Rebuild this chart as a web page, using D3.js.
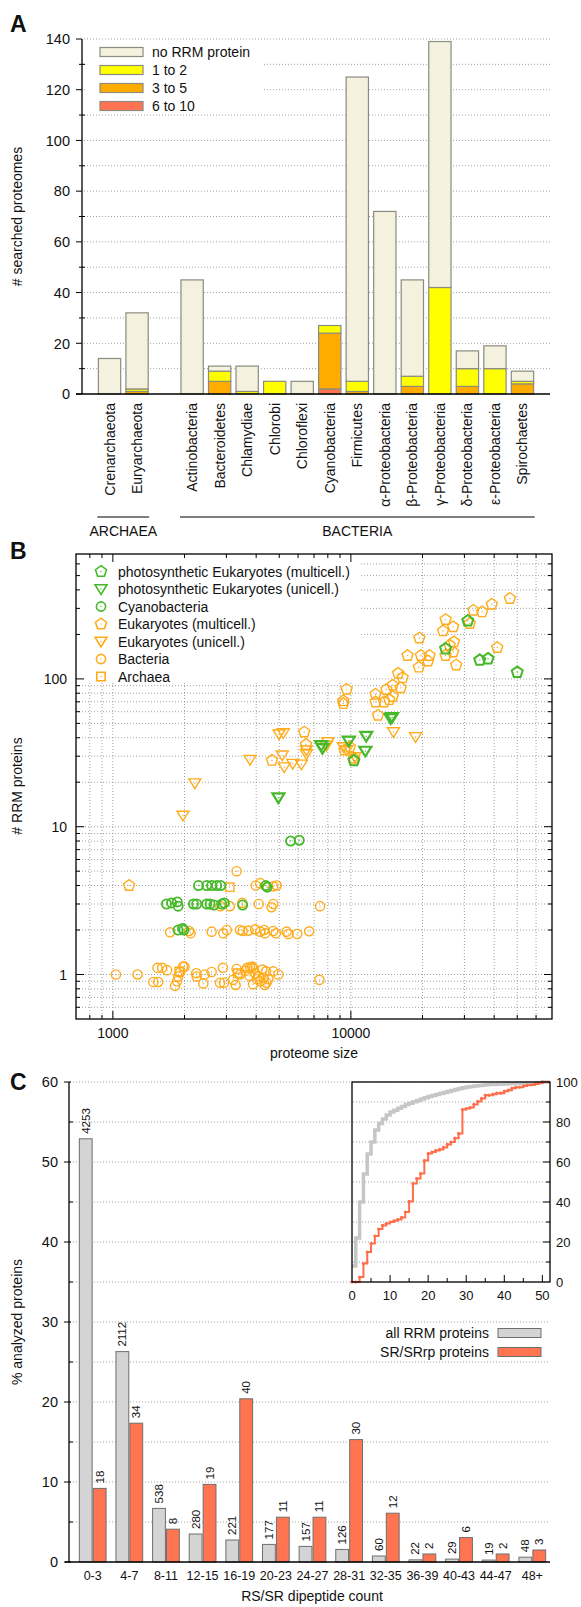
<!DOCTYPE html>
<html>
<head>
<meta charset="utf-8">
<script src="https://cdn.jsdelivr.net/npm/d3@7"></script>
<style>
  body { margin: 0; background: #fff; }
  svg text { font-family: "Liberation Sans", Arial, Helvetica, sans-serif; fill: #111; }
</style>
</head>
<body>
<svg id="fig" width="581" height="1607"></svg>
<script>
// ---------- panel A data ----------
var phyla = ["Crenarchaeota", "Euryarchaeota", "gap", "Actinobacteria", "Bacteroidetes", "Chlamydiae",
  "Chlorobi", "Chloroflexi", "Cyanobacteria", "Firmicutes", "α-Proteobacteria", "β-Proteobacteria",
  "γ-Proteobacteria", "δ-Proteobacteria", "ε-Proteobacteria", "Spirochaetes"];
var phylaBars = phyla.filter(d => d !== "gap");
var sixTo10   = [0, 0, 0, 0, 0, 0, 0, 2, 0, 0, 0, 0, 0, 0, 0];
var threeTo5  = [0, 1, 0, 5, 0, 0, 0, 22, 1, 0, 3, 0, 3, 0, 4];
var oneTo2    = [0, 1, 0, 4, 1, 5, 0, 3, 4, 0, 4, 42, 7, 10, 1];
var noRRM     = [14, 30, 45, 2, 10, 0, 5, 0, 120, 72, 38, 97, 7, 9, 4];
var legendA = ["no RRM protein", "1 to 2", "3 to 5", "6 to 10"];

// ---------- panel B data: [proteome size, # RRM proteins] ----------
var photoMulti = [[31000, 247], [25000, 160], [34800, 134], [37700, 137], [50000, 111], [10300, 28]];
var photoUni = [[14700, 54], [14900, 55], [11600, 41], [9800, 38], [11500, 32.5], [7500, 35.5], [7600, 34], [4960, 15.7]];
var cyano = [[5580, 8], [6070, 8.1], [2290, 4], [2480, 4], [2600, 4], [2730, 4], [2840, 4], [4390, 4], [4450, 3.9],
  [1680, 3], [1765, 3.05], [1865, 3.1], [1880, 2.9], [2180, 3], [2250, 3], [2480, 3], [2560, 3], [2660, 2.95],
  [2870, 3], [2940, 3.05], [3510, 2.95], [1880, 2], [1960, 2.05], [1990, 2]];
var eukMulti = [[46600, 350], [39100, 320], [35600, 284], [32700, 291], [31600, 237], [25000, 252], [26900, 225],
  [24400, 211], [19400, 189], [27100, 178], [26000, 169], [26900, 152], [25000, 144], [27700, 124], [41200, 163],
  [17300, 144], [19700, 144], [21400, 144], [21100, 132], [19300, 120], [15800, 109], [16500, 102], [16200, 87],
  [15000, 90.6], [14100, 84.7], [12700, 78.7], [15000, 76], [14500, 72.4], [12700, 69.8], [13800, 69.8],
  [13000, 56.7], [9600, 85], [9300, 71], [9300, 68], [6370, 43.7], [6480, 36], [9900, 34.6], [9400, 33],
  [4660, 28.1], [1170, 4], [10300, 29]];
var eukUni = [[15100, 43.7], [18700, 40.5], [8000, 37.4], [9300, 34.6], [9600, 33], [10400, 29.6], [5200, 43],
  [4990, 42.2], [5150, 30.4], [5250, 25.3], [5700, 26.7], [6200, 26.4], [6500, 32.9], [6500, 31], [3770, 28.4],
  [2210, 19.7], [1970, 11.9], [7900, 35.4]];
var bacteria = [[3310, 5], [3990, 4], [4160, 4.15], [4880, 4], [4720, 3.95],
  [2830, 2.9], [3100, 2.9], [3500, 3.05], [4100, 3], [4720, 3], [4640, 2.85], [7420, 2.9],
  [1740, 1.93], [2090, 1.97], [2120, 1.9], [2600, 1.95], [2910, 1.9], [3010, 2], [3420, 2], [3510, 1.97],
  [3710, 1.98], [3960, 2.02], [4160, 1.95], [4320, 2], [4360, 1.9], [4720, 1.97], [4840, 1.9], [5370, 1.95],
  [5460, 1.88], [5950, 1.88], [6680, 1.96],
  [1030, 1], [1270, 1], [1480, 0.89], [1550, 0.89], [1540, 1.11], [1610, 1.11], [1690, 1.07], [1825, 0.84],
  [1860, 0.9], [1880, 0.97], [1920, 1.04], [1970, 1.13], [2000, 1.13], [2240, 1.02], [2250, 0.97], [2400, 0.87],
  [2430, 1], [2600, 1.04], [2820, 0.88], [2930, 0.88], [2900, 1.11], [3200, 0.92], [3280, 0.85], [3310, 1.09],
  [3420, 1], [3670, 1.11], [3770, 1.12], [3850, 1.13], [3900, 1.1], [3960, 1.02], [4030, 0.93], [4160, 0.9],
  [4300, 0.95], [4400, 1.05], [4420, 0.88], [4720, 1.05], [4960, 1], [7380, 0.92], [3600, 1.06], [3750, 0.98],
  [4100, 0.97], [4250, 1.08], [4500, 0.93], [3880, 0.86], [4350, 0.85]];
var archaea = [[3100, 3.9], [1900, 1.05], [3350, 1.02]];

// ---------- panel C data ----------
var dipCats = ["0-3", "4-7", "8-11", "12-15", "16-19", "20-23", "24-27", "28-31", "32-35", "36-39", "40-43", "44-47", "48+"];
var allPct = [52.9, 26.3, 6.7, 3.5, 2.75, 2.2, 1.95, 1.57, 0.75, 0.27, 0.36, 0.24, 0.6];
var srPct = [9.2, 17.35, 4.1, 9.7, 20.4, 5.6, 5.6, 15.3, 6.1, 1.0, 3.05, 1.0, 1.5];
var allCount = [4253, 2112, 538, 280, 221, 177, 157, 126, 60, 22, 29, 19, 48];
var srCount = [18, 34, 8, 19, 40, 11, 11, 30, 12, 2, 6, 2, 3];
// inset: cumulative % by RS/SR count 0..50
var allCum = [8, 22, 40, 54, 64, 70, 76, 79.2, 81.5, 83.5, 85, 85.9, 86.9, 87.8, 88.7, 89.4, 90.1, 90.8, 91.5, 92.1,
  92.7, 93.3, 93.8, 94.3, 94.8, 95.3, 95.8, 96.3, 96.7, 97.1, 97.5, 97.8, 98, 98.2, 98.4, 98.6, 98.7, 98.8, 98.9, 98.9,
  99, 99.1, 99.2, 99.2, 99.3, 99.3, 99.4, 99.4, 99.5, 99.6, 100];
var srCum = [0, 0, 2.5, 9.2, 15, 19.2, 23, 26.5, 28.3, 29.2, 30, 30.6, 31.2, 32.2, 35, 40.3, 49.2, 51.7, 54.2, 60.7,
  64.2, 65, 65.8, 66.3, 67.3, 68.8, 70, 71.9, 74.2, 86.2, 86.7, 87.2, 88.8, 90.3, 91.8, 93.4, 93.4, 93.9, 94.4, 94.4,
  95.4, 95.9, 96.9, 97.4, 97.4, 98, 98.5, 98.5, 99, 99.5, 100];

var svg = d3.select("#fig");
var dotted = "1,2";
var gridCol = "#8a8a8a";

function panelLabel(t, x, y) {
  svg.append("text").attr("x", x).attr("y", y).attr("font-size", 23).attr("font-weight", "bold").text(t);
}

// ================= PANEL A =================
panelLabel("A", 10, 32);
var xA = d3.scalePoint().domain(phyla).range([82, 550]).padding(1);
var yA = d3.scaleLinear().domain([0, 140]).range([394, 39]);
var bwA = xA.step() * 0.81;
var gA = svg.append("g");

// grid
gA.selectAll(".gridA").data(d3.range(10, 141, 10)).enter().append("line")
  .attr("x1", 84).attr("x2", 550).attr("y1", d => yA(d)).attr("y2", d => yA(d))
  .attr("stroke", gridCol).attr("stroke-width", 0.8).attr("stroke-dasharray", dotted);

// stacked bars
var colorsA = ["#ff7352", "#ffab00", "#ffff00", "#f4f2de"];
var rowsA = phylaBars.map((p, i) => ({ phylum: p, r: sixTo10[i], o: threeTo5[i], y: oneTo2[i], n: noRRM[i] }));
var stackA = d3.stack().keys(["r", "o", "y", "n"])(rowsA);
stackA.forEach(function (layer, li) {
  gA.append("g").selectAll("rect").data(layer.filter(d => d[1] > d[0])).enter().append("rect")
    .attr("x", d => xA(d.data.phylum) - bwA / 2)
    .attr("width", bwA)
    .attr("y", d => yA(d[1]))
    .attr("height", d => yA(d[0]) - yA(d[1]))
    .attr("fill", colorsA[li])
    .attr("stroke", "#8b8b80").attr("stroke-width", 1.2);
});

// legend box
gA.append("rect").attr("x", 85).attr("y", 43).attr("width", 178).attr("height", 70).attr("fill", "#fff");
var legColsA = ["#f4f2de", "#ffff00", "#ffab00", "#ff7352"];
legendA.forEach(function (t, i) {
  var cy = 52 + i * 18;
  gA.append("rect").attr("x", 100).attr("y", cy - 4.5).attr("width", 43).attr("height", 9)
    .attr("fill", legColsA[i]).attr("stroke", "#8b8b80").attr("stroke-width", 1.2);
  gA.append("text").attr("x", 152).attr("y", cy).attr("dy", "0.36em").attr("font-size", 14).text(t);
});

// axes
gA.append("line").attr("x1", 82).attr("x2", 82).attr("y1", 39).attr("y2", 394).attr("stroke", "#000").attr("stroke-width", 1.3);
gA.append("line").attr("x1", 76).attr("x2", 550).attr("y1", 394).attr("y2", 394).attr("stroke", "#000").attr("stroke-width", 1.3);
gA.selectAll(".tkA").data(d3.range(0, 141, 10)).enter().append("line")
  .attr("x1", d => d % 20 === 0 ? 76 : 79).attr("x2", d => d % 20 === 0 ? 82 : 85)
  .attr("y1", d => yA(d)).attr("y2", d => yA(d)).attr("stroke", "#000").attr("stroke-width", 1);
gA.selectAll(".tlA").data(d3.range(0, 141, 20)).enter().append("text")
  .attr("x", 70).attr("y", d => yA(d)).attr("dy", "0.36em").attr("text-anchor", "end").attr("font-size", 14.5).text(d => d);
gA.append("text").attr("transform", "translate(22," + ((39 + 394) / 2) + ") rotate(-90)")
  .attr("text-anchor", "middle").attr("font-size", 14).text("# searched proteomes");

// category labels
gA.selectAll(".xlA").data(phylaBars).enter().append("text")
  .attr("transform", d => "translate(" + (xA(d) + 5) + ",403) rotate(-90)")
  .attr("text-anchor", "end").attr("font-size", 14).text(d => d);

// group brackets
function groupLine(first, last, label) {
  var x1 = xA(first) - bwA / 2 - 1, x2 = xA(last) + bwA / 2 + 1;
  gA.append("line").attr("x1", x1).attr("x2", x2).attr("y1", 517).attr("y2", 517).attr("stroke", "#000").attr("stroke-width", 1.2);
  gA.append("text").attr("x", (x1 + x2) / 2).attr("y", 536).attr("text-anchor", "middle").attr("font-size", 14).text(label);
}
groupLine("Crenarchaeota", "Euryarchaeota", "ARCHAEA");
groupLine("Actinobacteria", "Spirochaetes", "BACTERIA");

// ================= PANEL B =================
panelLabel("B", 10, 559);
var xB = d3.scaleLog().domain([700, 70000]).range([76, 552]);
var yB = d3.scaleLog().domain([0.5, 700]).range([1019, 554]);
var gB = svg.append("g");
var xTicksB = xB.ticks().filter(d => d > 700 && d < 70000);
var yTicksB = yB.ticks().filter(d => d > 0.5 && d < 700);

gB.selectAll(".gxB").data(xTicksB).enter().append("line")
  .attr("x1", d => xB(d)).attr("x2", d => xB(d)).attr("y1", 554).attr("y2", 1019)
  .attr("stroke", gridCol).attr("stroke-width", 0.8).attr("stroke-dasharray", dotted);
gB.selectAll(".gyB").data(yTicksB).enter().append("line")
  .attr("x1", 76).attr("x2", 552).attr("y1", d => yB(d)).attr("y2", d => yB(d))
  .attr("stroke", gridCol).attr("stroke-width", 0.8).attr("stroke-dasharray", dotted);

var green = "#46b92a", orange = "#ffab1a";
function symPath(type, cx, cy) {
  var p = d3.path();
  if (type === "circle") {
    p.moveTo(cx + 4.6, cy); p.arc(cx, cy, 4.6, 0, 2 * Math.PI);
  } else if (type === "pent") {
    for (var k = 0; k < 5; k++) {
      var a = (-90 + k * 72) * Math.PI / 180;
      var px = cx + 5.8 * Math.cos(a), py = cy + 5.8 * Math.sin(a);
      if (k === 0) p.moveTo(px, py); else p.lineTo(px, py);
    }
    p.closePath();
  } else if (type === "tri") {
    for (var k = 0; k < 3; k++) {
      var a = (90 + k * 120) * Math.PI / 180;
      var px = cx + 6.2 * Math.cos(a), py = cy - 1 + 6.2 * Math.sin(a) * -1;
      if (k === 0) p.moveTo(cx, cy + 5.4); else p.lineTo(cx + (k === 1 ? -6 : 6), cy - 4.3);
    }
    p.closePath();
  } else {
    p.rect(cx - 4.2, cy - 4.2, 8.4, 8.4);
  }
  return p.toString();
}
function drawSeries(data, type, col, sw) {
  var g = gB.append("g");
  g.selectAll("path").data(data).enter().append("path")
    .attr("d", d => symPath(type, xB(d[0]), yB(d[1])))
    .attr("fill", "none").attr("stroke", col).attr("stroke-width", sw);
  g.selectAll("circle").data(data).enter().append("circle")
    .attr("cx", d => xB(d[0])).attr("cy", d => yB(d[1])).attr("r", 0.7).attr("fill", col);
}
drawSeries(bacteria, "circle", orange, 1.4);
drawSeries(archaea, "square", orange, 1.4);
drawSeries(eukUni, "tri", orange, 1.4);
drawSeries(eukMulti, "pent", orange, 1.4);
drawSeries(cyano, "circle", green, 1.8);
drawSeries(photoUni, "tri", green, 2.2);
drawSeries(photoMulti, "pent", green, 2);

// legend box
gB.append("rect").attr("x", 77).attr("y", 555).attr("width", 283).attr("height", 127).attr("fill", "#fff");
var legendB = [["photosynthetic Eukaryotes (multicell.)", "pent", green], ["photosynthetic Eukaryotes (unicell.)", "tri", green],
  ["Cyanobacteria", "circle", green], ["Eukaryotes (multicell.)", "pent", orange], ["Eukaryotes (unicell.)", "tri", orange],
  ["Bacteria", "circle", orange], ["Archaea", "square", orange]];
legendB.forEach(function (l, i) {
  var cy = 571.5 + i * 17.5;
  gB.append("path").attr("d", symPath(l[1], 101, cy)).attr("fill", "none").attr("stroke", l[2]).attr("stroke-width", 1.6);
  gB.append("circle").attr("cx", 101).attr("cy", cy).attr("r", 0.7).attr("fill", l[2]);
  gB.append("text").attr("x", 118).attr("y", cy).attr("dy", "0.36em").attr("font-size", 14).text(l[0]);
});

// frame + ticks
gB.append("rect").attr("x", 76).attr("y", 554).attr("width", 476).attr("height", 465)
  .attr("fill", "none").attr("stroke", "#000").attr("stroke-width", 1.3);
var majX = [1000, 10000], majY = [1, 10, 100];
xTicksB.forEach(function (t) {
  var L = majX.indexOf(t) >= 0 ? 8 : 4;
  gB.append("line").attr("x1", xB(t)).attr("x2", xB(t)).attr("y1", 1019).attr("y2", 1019 - L).attr("stroke", "#000");
  gB.append("line").attr("x1", xB(t)).attr("x2", xB(t)).attr("y1", 554).attr("y2", 554 + L).attr("stroke", "#000");
});
yTicksB.forEach(function (t) {
  var L = majY.indexOf(t) >= 0 ? 8 : 4;
  gB.append("line").attr("x1", 76).attr("x2", 76 + L).attr("y1", yB(t)).attr("y2", yB(t)).attr("stroke", "#000");
  gB.append("line").attr("x1", 552).attr("x2", 552 - L).attr("y1", yB(t)).attr("y2", yB(t)).attr("stroke", "#000");
});
gB.selectAll(".xlB").data(majX).enter().append("text")
  .attr("x", d => xB(d)).attr("y", 1038).attr("text-anchor", "middle").attr("font-size", 14).text(d => d);
gB.selectAll(".ylB").data(majY).enter().append("text")
  .attr("x", 67).attr("y", d => yB(d)).attr("dy", "0.36em").attr("text-anchor", "end").attr("font-size", 14).text(d => d);
gB.append("text").attr("x", 314).attr("y", 1058).attr("text-anchor", "middle").attr("font-size", 14).text("proteome size");
gB.append("text").attr("transform", "translate(22,786) rotate(-90)").attr("text-anchor", "middle").attr("font-size", 14).text("# RRM proteins");

// ================= PANEL C =================
panelLabel("C", 10, 1090);
var xC = d3.scaleBand().domain(dipCats).range([72, 553]).paddingInner(0.27).paddingOuter(0.2);
var xCs = d3.scaleBand().domain(["all", "sr"]).range([0, xC.bandwidth()]).paddingInner(0.08);
var yC = d3.scaleLinear().domain([0, 60]).range([1562, 1082]);
var gC = svg.append("g");

gC.selectAll(".gC").data(d3.range(5, 61, 5)).enter().append("line")
  .attr("x1", 70).attr("x2", 550).attr("y1", d => yC(d)).attr("y2", d => yC(d))
  .attr("stroke", gridCol).attr("stroke-width", 0.8).attr("stroke-dasharray", dotted);

var rowsC = dipCats.map((c, i) => ({ cat: c, all: allPct[i], sr: srPct[i], nAll: allCount[i], nSr: srCount[i] }));
var colAll = "#d4d4d4", colSr = "#ff7552";
gC.selectAll(".bAll").data(rowsC).enter().append("rect")
  .attr("x", d => xC(d.cat) + xCs("all")).attr("width", xCs.bandwidth())
  .attr("y", d => yC(d.all)).attr("height", d => yC(0) - yC(d.all))
  .attr("fill", colAll).attr("stroke", "#6e6e6e").attr("stroke-width", 1);
gC.selectAll(".bSr").data(rowsC).enter().append("rect")
  .attr("x", d => xC(d.cat) + xCs("sr")).attr("width", xCs.bandwidth())
  .attr("y", d => yC(d.sr)).attr("height", d => yC(0) - yC(d.sr))
  .attr("fill", colSr).attr("stroke", "#6e6e6e").attr("stroke-width", 1);
gC.selectAll(".nAll").data(rowsC).enter().append("text")
  .attr("transform", d => "translate(" + (xC(d.cat) + xCs("all") + xCs.bandwidth() / 2 + 4) + "," + (yC(d.all) - 5) + ") rotate(-90)")
  .attr("font-size", 11.5).text(d => d.nAll);
gC.selectAll(".nSr").data(rowsC).enter().append("text")
  .attr("transform", d => "translate(" + (xC(d.cat) + xCs("sr") + xCs.bandwidth() / 2 + 4) + "," + (yC(d.sr) - 5) + ") rotate(-90)")
  .attr("font-size", 11.5).text(d => d.nSr);

// axes
gC.append("line").attr("x1", 69).attr("x2", 69).attr("y1", 1082).attr("y2", 1562).attr("stroke", "#000").attr("stroke-width", 1.3);
gC.append("line").attr("x1", 65).attr("x2", 550).attr("y1", 1562).attr("y2", 1562).attr("stroke", "#000").attr("stroke-width", 1.3);
gC.selectAll(".tkC").data(d3.range(0, 61, 5)).enter().append("line")
  .attr("x1", d => d % 10 === 0 ? 64 : 69).attr("x2", d => d % 10 === 0 ? 71 : 73)
  .attr("y1", d => yC(d)).attr("y2", d => yC(d)).attr("stroke", "#000");
gC.selectAll(".ylC").data(d3.range(0, 61, 10)).enter().append("text")
  .attr("x", 58).attr("y", d => yC(d)).attr("dy", "0.36em").attr("text-anchor", "end").attr("font-size", 14.5).text(d => d);
gC.selectAll(".xlC").data(dipCats).enter().append("text")
  .attr("x", d => xC(d) + xC.bandwidth() / 2).attr("y", 1580).attr("text-anchor", "middle").attr("font-size", 12.5).text(d => d);
gC.append("text").attr("x", 312).attr("y", 1601).attr("text-anchor", "middle").attr("font-size", 14).text("RS/SR dipeptide count");
gC.append("text").attr("transform", "translate(22,1322) rotate(-90)").attr("text-anchor", "middle").attr("font-size", 14).text("% analyzed proteins");

// legend
[["all RRM proteins", colAll], ["SR/SRrp proteins", colSr]].forEach(function (l, i) {
  var cy = 1333 + i * 19;
  gC.append("text").attr("x", 489).attr("y", cy).attr("dy", "0.36em").attr("text-anchor", "end").attr("font-size", 14).text(l[0]);
  gC.append("rect").attr("x", 498).attr("y", cy - 4.5).attr("width", 43).attr("height", 9)
    .attr("fill", l[1]).attr("stroke", "#6e6e6e").attr("stroke-width", 1);
});

// inset
var xI = d3.scaleLinear().domain([0, 52]).range([352, 550]);
var yI = d3.scaleLinear().domain([0, 100]).range([1282, 1082]);
var gI = svg.append("g");
gI.append("rect").attr("x", 352).attr("y", 1082).attr("width", 198).attr("height", 200).attr("fill", "#fff");
gI.selectAll(".gI").data(d3.range(10, 100, 10)).enter().append("line")
  .attr("x1", 353).attr("x2", 550).attr("y1", d => yI(d)).attr("y2", d => yI(d))
  .attr("stroke", gridCol).attr("stroke-width", 0.8).attr("stroke-dasharray", dotted);
var cumLine = d3.line().x(d => xI(d[0])).y(d => yI(d[1])).curve(d3.curveStepAfter);
var allPts = allCum.map((v, k) => [k, v]).concat([[xI.domain()[1], 100]]);
var srPts = srCum.map((v, k) => [k, v]).concat([[xI.domain()[1], 100]]);
gI.append("path").attr("d", cumLine(allPts)).attr("fill", "none").attr("stroke", "#c6c6c6").attr("stroke-width", 3.5);
gI.append("path").attr("d", cumLine(srPts)).attr("fill", "none").attr("stroke", "#ff6e4a").attr("stroke-width", 2);
gI.selectAll(".dSr").data(srCum.map((v, k) => [k, v])).enter().append("circle")
  .attr("cx", d => xI(d[0])).attr("cy", d => yI(d[1])).attr("r", 1.6).attr("fill", "#ff6e4a");
gI.append("rect").attr("x", 352).attr("y", 1082).attr("width", 198).attr("height", 200)
  .attr("fill", "none").attr("stroke", "#000").attr("stroke-width", 1.3);
gI.selectAll(".txI").data(d3.range(5, 51, 5)).enter().append("line")
  .attr("x1", d => xI(d)).attr("x2", d => xI(d)).attr("y1", 1282).attr("y2", d => d % 10 === 0 ? 1275 : 1278).attr("stroke", "#000");
gI.selectAll(".xlI").data(d3.range(0, 51, 10)).enter().append("text")
  .attr("x", d => xI(d)).attr("y", 1300).attr("text-anchor", "middle").attr("font-size", 13).text(d => d);
gI.selectAll(".tyI").data(d3.range(10, 100, 10)).enter().append("line")
  .attr("x1", 550).attr("x2", d => d % 20 === 0 ? 543 : 546).attr("y1", d => yI(d)).attr("y2", d => yI(d)).attr("stroke", "#000");
gI.selectAll(".ylI").data(d3.range(0, 101, 20)).enter().append("text")
  .attr("x", 556).attr("y", d => yI(d)).attr("dy", "0.36em").attr("font-size", 13).text(d => d);
</script>
</body>
</html>
